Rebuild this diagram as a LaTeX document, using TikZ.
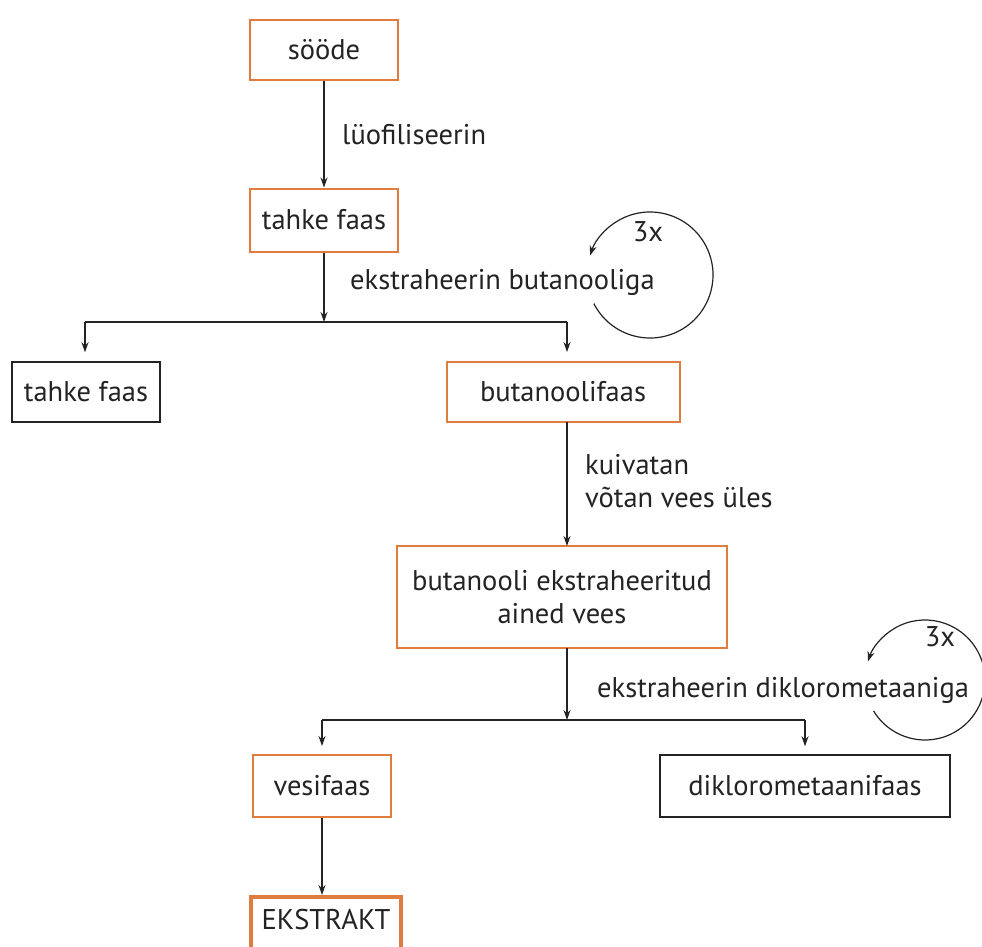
\documentclass[tikz,border=0pt]{standalone}
\usepackage{fontspec}
\setmainfont{PT Sans}
\usetikzlibrary{arrows.meta}
\definecolor{orng}{RGB}{222,125,62}
\definecolor{ink}{RGB}{35,35,35}
\begin{document}
\begin{tikzpicture}[x=1pt,y=1pt,
  every node/.style={font=\fontsize{28.5}{33}\selectfont, text=ink},
  obox/.style={draw=orng, line width=2pt, inner sep=0pt, align=center},
  kbox/.style={draw=ink, line width=1.5pt, inner sep=0pt, align=center},
  lbl/.style={anchor=west, inner sep=0pt},
  arr/.style={draw=ink, line width=1.3pt, -{Stealth[length=10pt,width=7pt]}},
  ln/.style={draw=ink, line width=1.3pt}]
\useasboundingbox (0,0) rectangle (982,-947);
% boxes
\node[obox, minimum width=148pt, minimum height=60pt] (soode) at (324,-50) {sööde};
\node[obox, minimum width=148pt, minimum height=63pt] (tahke1) at (324,-220) {tahke faas};
\node[kbox, minimum width=148pt, minimum height=60pt] (tahke2) at (86,-392) {tahke faas};
\node[obox, minimum width=233pt, minimum height=60pt] (buta) at (563,-392) {butanoolifaas};
\node[obox, minimum width=330pt, minimum height=102pt] (bext) at (562,-597) {butanooli ekstraheeritud\\ained vees};
\node[obox, minimum width=138pt, minimum height=62pt] (vesi) at (322,-786) {vesifaas};
\node[kbox, minimum width=290pt, minimum height=62pt] (dikl) at (805,-786) {diklorometaanifaas};
\node[draw=orng, line width=4pt, inner sep=0pt, minimum width=150pt, minimum height=60pt, anchor=north] (ekst) at (326,-895) {};
\node at (326,-920) (ekstt) {EKSTRAKT};
% junctions
\coordinate (j1) at (324,-322);
\coordinate (j2) at (567,-720);
% connectors
\draw[arr] (soode.south) -- (tahke1.north);
\draw[arr] (tahke1.south) -- (j1);
\draw[ln] (j1) -- (85,-322) coordinate (jl);
\draw[ln] (j1) -- (567,-322) coordinate (jr);
\draw[arr, shorten >=9pt] (jl) -- (jl |- tahke2.north);
\draw[arr, shorten >=9pt] (jr) -- (jr |- buta.north);
\draw[arr] (567,-422) -- (567,-546);
\draw[arr] (567,-648) -- (j2);
\draw[ln] (j2) -- (322,-720) coordinate (jl2);
\draw[ln] (j2) -- (805,-720) coordinate (jr2);
\draw[arr, shorten >=8pt] (jl2) -- (jl2 |- vesi.north);
\draw[arr, shorten >=8pt] (jr2) -- (jr2 |- dikl.north);
\draw[arr] (vesi.south) -- (vesi.south |- ekst.north);
% labels
\node[lbl] (l1) at (342,-135) {lüofiliseerin};
\node[lbl] (l2) at (350,-282) {ekstraheerin butanooliga};
\node[lbl] (l3) at (585,-465) {kuivatan};
\node[lbl] (l4) at (585,-497) {võtan vees üles};
\node[lbl] (l5) at (597,-690) {ekstraheerin diklorometaaniga};
% cycles
\draw[arr, line width=1.2pt] (650,-275) ++(207:63pt) arc[start angle=207, end angle=522, radius=63pt];
\node (c1) at (648,-232) {3x};
\draw[arr, line width=1.2pt] (925,-680) ++(211:60pt) arc[start angle=211, end angle=522, radius=60pt];
\node (c2) at (940,-637) {3x};
\end{tikzpicture}
\end{document}
